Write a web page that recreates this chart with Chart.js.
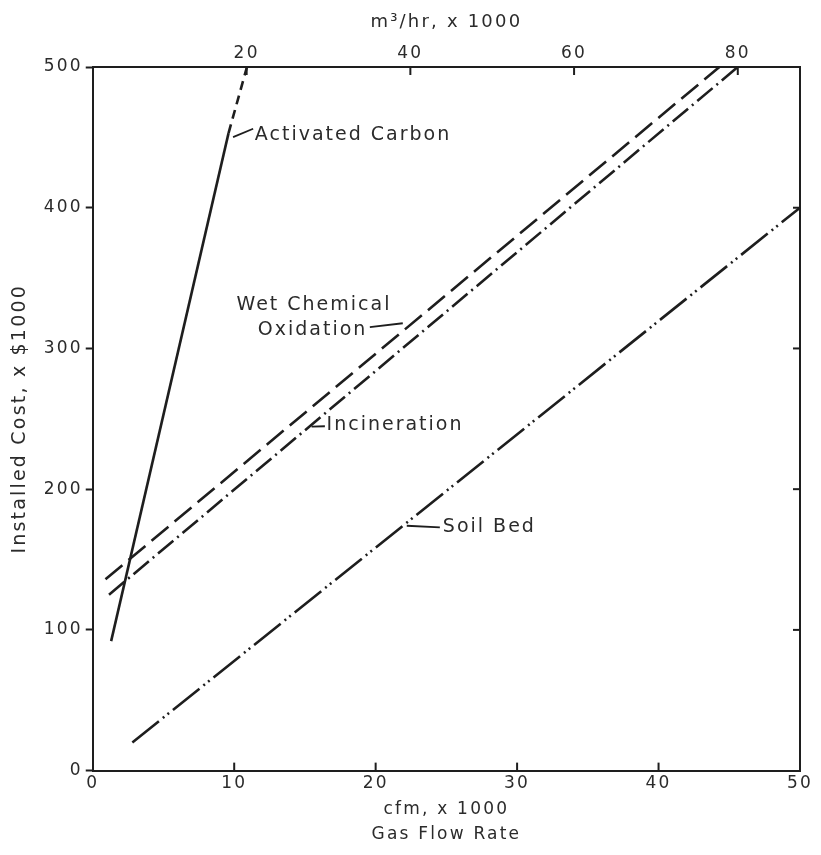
<!DOCTYPE html>
<html><head><meta charset="utf-8">
<script src="https://cdn.jsdelivr.net/npm/chart.js@4.4.1/dist/chart.umd.min.js"></script>
<style>html,body{margin:0;padding:0;background:#fff;} canvas{display:block;}</style>
</head><body>
<canvas id="c" width="821" height="855"></canvas>
<script>
// ---- data ----
const cfmTicks = [0, 10, 20, 30, 40, 50];
const m3hrTicks = [20, 40, 60, 80];
const costTicks = [0, 100, 200, 300, 400, 500];

const carbonCfm = [1.3, 9.6, 10.9];
const carbonCost = [92, 453, 500];
const wetCfm = [0.9, 44.3];
const wetCost = [136, 500];
const incinCfm = [1.15, 45.6];
const incinCost = [125, 500];
const soilCfm = [2.8, 50];
const soilCost = [20, 400];

const seriesNames = ['Activated Carbon', 'Wet Chemical Oxidation', 'Incineration', 'Soil Bed'];

// label placements in data units
const labelNotes = [
  {text: 'Activated Carbon', x: 11.46, y: 451.6, lead: [9.92, 450.2, 11.34, 456.1]},
  {text: 'Wet Chemical', x: 10.16, y: 330.7},
  {text: 'Oxidation', x: 11.67, y: 313, lead: [19.59, 315.1, 21.92, 317.9]},
  {text: 'Incineration', x: 16.53, y: 245.4, lead: [15.47, 244.5, 16.41, 244.7]},
  {text: 'Soil Bed', x: 24.75, y: 173, lead: [22.2, 174, 24.54, 172.8]}
];

const INK = '#1e1e1e';
const TXT = '#2b2b2b';
const FONT = '"DejaVu Sans", sans-serif';

function pts(xs, ys) { return xs.map((x, i) => ({x: x, y: ys[i]})); }

const spacingPlugin = {
  id: 'spacing',
  beforeLayout(chart) { chart.ctx.letterSpacing = '1.5px'; },
  beforeDraw(chart) { chart.ctx.letterSpacing = '2.2px'; }
};

const notesPlugin = {
  id: 'notes',
  afterDatasetsDraw(chart) {
    const ctx = chart.ctx;
    const xs = chart.scales.x, ys = chart.scales.y, x2 = chart.scales.x2, y2 = chart.scales.y2;
    ctx.save();
    ctx.strokeStyle = INK;
    ctx.lineWidth = 2;
    ctx.setLineDash([]);
    // inward tick marks on bottom, top and right axes
    const ca = chart.chartArea;
    cfmTicks.forEach(v => {
      if (v === 0 || v === 50) return;
      const px = xs.getPixelForValue(v);
      ctx.beginPath(); ctx.moveTo(px, ca.bottom); ctx.lineTo(px, ca.bottom - 8); ctx.stroke();
    });
    m3hrTicks.forEach(v => {
      const px = x2.getPixelForValue(v);
      ctx.beginPath(); ctx.moveTo(px, ca.top); ctx.lineTo(px, ca.top + 8); ctx.stroke();
    });
    costTicks.forEach(v => {
      if (v === 0 || v === 500) return;
      const py = y2.getPixelForValue(v);
      ctx.beginPath(); ctx.moveTo(ca.right, py); ctx.lineTo(ca.right - 7, py); ctx.stroke();
    });
    // labels and leader lines
    ctx.letterSpacing = '2px';
    ctx.font = '19px ' + FONT;
    ctx.fillStyle = TXT;
    ctx.textAlign = 'left';
    ctx.textBaseline = 'middle';
    ctx.lineWidth = 1.8;
    labelNotes.forEach(n => {
      ctx.fillText(n.text, xs.getPixelForValue(n.x), ys.getPixelForValue(n.y));
      if (n.lead) {
        ctx.beginPath();
        ctx.moveTo(xs.getPixelForValue(n.lead[0]), ys.getPixelForValue(n.lead[1]));
        ctx.lineTo(xs.getPixelForValue(n.lead[2]), ys.getPixelForValue(n.lead[3]));
        ctx.stroke();
      }
    });
    ctx.restore();
  }
};

const lineBase = {borderColor: INK, borderWidth: 2.6, pointRadius: 0, fill: false, tension: 0, xAxisID: 'x', yAxisID: 'y', clip: false};

new Chart(document.getElementById('c'), {
  type: 'line',
  data: {
    datasets: [
      Object.assign({}, lineBase, {label: seriesNames[0], data: pts(carbonCfm, carbonCost),
        segment: {borderDash: c => c.p0DataIndex === 1 ? [9, 6] : undefined}}),
      Object.assign({}, lineBase, {label: seriesNames[1], data: pts(wetCfm, wetCost), borderDash: [22, 8]}),
      Object.assign({}, lineBase, {label: seriesNames[2], data: pts(incinCfm, incinCost), borderDash: [20, 5, 2, 5]}),
      Object.assign({}, lineBase, {label: seriesNames[3], data: pts(soilCfm, soilCost), borderDash: [34, 5, 2, 4, 2, 5]})
    ]
  },
  options: {
    responsive: false,
    animation: false,
    devicePixelRatio: 1,
    layout: {padding: {left: 0, right: 21, top: 0, bottom: 0}},
    plugins: {legend: {display: false}, tooltip: {enabled: false}},
    scales: {
      x: {
        type: 'linear', position: 'bottom', min: 0, max: 50,
        afterBuildTicks: s => { s.ticks = cfmTicks.map(v => ({value: v})); },
        ticks: {color: TXT, font: {family: FONT, size: 17}, padding: 3, maxRotation: 0},
        grid: {display: true, drawOnChartArea: false, drawTicks: false},
        border: {display: true, color: INK, width: 2},
        title: {display: true, text: ['cfm, x 1000', 'Gas Flow Rate'], color: TXT,
          font: {family: FONT, size: 17, lineHeight: 1.47}, padding: {top: 0, bottom: 8}}
      },
      x2: {
        type: 'linear', position: 'top', min: 1.2, max: 87.6,
        afterBuildTicks: s => { s.ticks = m3hrTicks.map(v => ({value: v})); },
        ticks: {color: TXT, font: {family: FONT, size: 17}, padding: 3, maxRotation: 0},
        grid: {display: true, drawOnChartArea: false, drawTicks: false},
        border: {display: true, color: INK, width: 2},
        title: {display: true, text: 'm³/hr, x 1000', color: TXT,
          font: {family: FONT, size: 18, lineHeight: 1.2}, padding: {top: 12, bottom: 7}}
      },
      y: {
        type: 'linear', position: 'left', min: 0, max: 500,
        afterBuildTicks: s => { s.ticks = costTicks.map(v => ({value: v})); },
        ticks: {color: TXT, font: {family: FONT, size: 17}, padding: 3},
        grid: {display: true, drawOnChartArea: false, drawTicks: true, tickLength: 7, tickWidth: 2, color: INK},
        border: {display: true, color: INK, width: 2},
        title: {display: true, text: 'Installed Cost, x $1000', color: TXT,
          font: {family: FONT, size: 19, lineHeight: 1.2}, padding: {top: 9, bottom: 11}}
      },
      y2: {
        type: 'linear', position: 'right', min: 0, max: 500,
        ticks: {display: false},
        grid: {display: true, drawOnChartArea: false, drawTicks: false},
        border: {display: true, color: INK, width: 2}
      }
    }
  },
  plugins: [spacingPlugin, notesPlugin]
});
</script>
</body></html>
